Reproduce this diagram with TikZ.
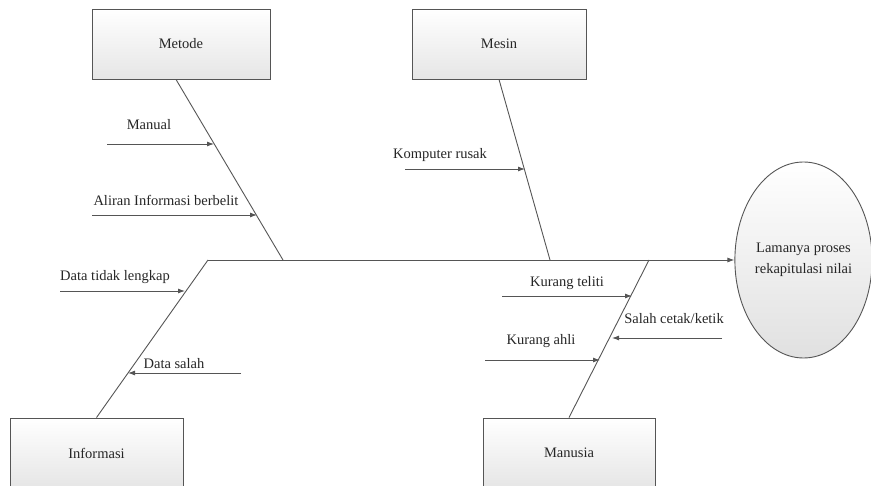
\documentclass[tikz,border=0pt]{standalone}
\usepackage{fontspec}
\setmainfont{Liberation Serif}
\usetikzlibrary{arrows.meta,shapes.geometric}

\definecolor{edge}{HTML}{555555}
\definecolor{ink}{HTML}{262626}

\tikzset{
  catbox/.style={draw=edge, line width=0.9pt, top color=white, bottom color=black!10,
    minimum width=176pt, minimum height=70pt, inner sep=0pt, text=ink},
  effect/.style={ellipse, draw=edge, line width=0.9pt, top color=white, bottom color=black!12,
    minimum width=133pt, minimum height=196pt, inner sep=0pt, align=center, text=ink},
  bone/.style={draw=edge, line width=0.9pt},
  cause/.style={draw=edge, line width=0.9pt, -{Latex[length=7pt,width=5pt]}},
  lbl/.style={text=ink, inner sep=0pt}
}

\begin{document}
\begin{tikzpicture}[x=1pt, y=-1pt, font=\fontsize{14.5}{17}\selectfont]
\useasboundingbox (0,0) rectangle (871,486);
\clip (0,0) rectangle (871,486);

% category boxes
\node[catbox, minimum width=178pt] (metode) at (181,44) {Metode};
\node[catbox, minimum width=174pt] (mesin) at (499,44) {Mesin};
\node[catbox, minimum width=173pt] (informasi) at (96.5,453) {Informasi};
\node[catbox, minimum width=172pt] (manusia) at (569,453) {Manusia};

% effect
\node[effect] (effect) at (803.5,260) {Lamanya proses\\[4pt]rekapitulasi nilai};

% spine and main bones
\coordinate (spineL) at (208,260);
\coordinate (jMetode) at (283,260);
\coordinate (jMesin) at (550,260);
\coordinate (jManusia) at (649,260);
\draw[cause] (spineL) -- (effect.west);
\draw[bone] ([xshift=-5pt]metode.south) -- (jMetode);
\draw[bone] (mesin.south) -- (jMesin);
\draw[bone] (spineL) -- (informasi.north);
\draw[bone] (jManusia) -- (manusia.north);

% Metode causes
\coordinate (mA0) at (107,144); \coordinate (mA1) at (214,144);
\draw[cause] (mA0) -- (mA1);
\node[lbl] (manual) at (149,125) {Manual};
\coordinate (mB0) at (92,215); \coordinate (mB1) at (257,215);
\draw[cause] (mB0) -- (mB1);
\node[lbl] (aliran) at (166,200) {Aliran Informasi berbelit};

% Mesin causes
\coordinate (sA0) at (405,169); \coordinate (sA1) at (525,169);
\draw[cause] (sA0) -- (sA1);
\node[lbl] (komputer) at (440,155) {Komputer rusak};

% Informasi causes
\coordinate (iA0) at (60,291); \coordinate (iA1) at (185,291);
\draw[cause] (iA0) -- (iA1);
\node[lbl] (tidaklengkap) at (115,277) {Data tidak lengkap};
\coordinate (iB0) at (241,373); \coordinate (iB1) at (128,373);
\draw[cause] (iB0) -- (iB1);
\node[lbl] (datasalah) at (174,364) {Data salah};

% Manusia causes
\coordinate (uA0) at (502,296); \coordinate (uA1) at (632,296);
\draw[cause] (uA0) -- (uA1);
\node[lbl] (teliti) at (567,283) {Kurang teliti};
\coordinate (uB0) at (722,338); \coordinate (uB1) at (612,338);
\draw[cause] (uB0) -- (uB1);
\node[lbl] (cetak) at (674,319) {Salah cetak/ketik};
\coordinate (uC0) at (485,360); \coordinate (uC1) at (600,360);
\draw[cause] (uC0) -- (uC1);
\node[lbl] (ahli) at (541,341) {Kurang ahli};
\end{tikzpicture}
\end{document}
